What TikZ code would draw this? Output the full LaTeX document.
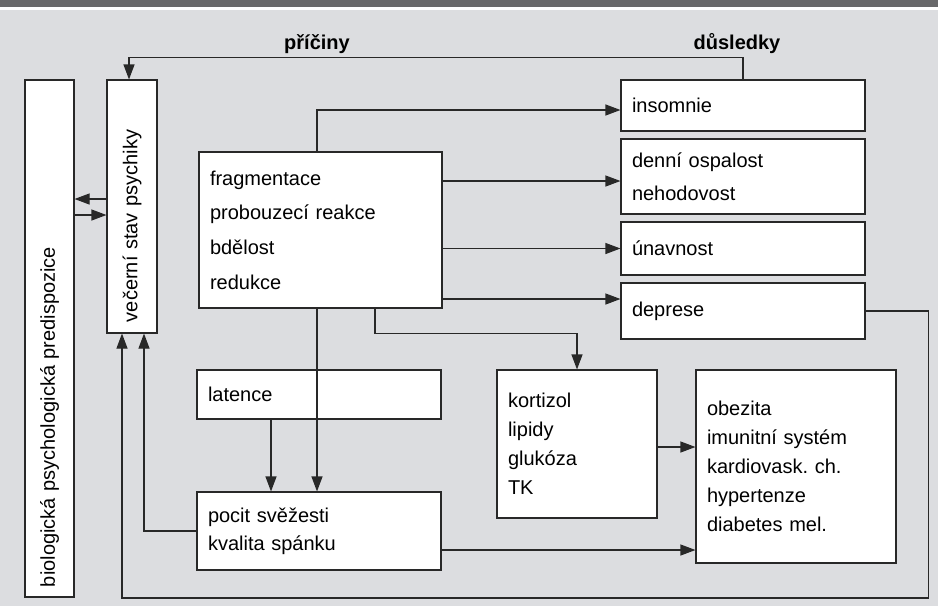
\documentclass[tikz,border=0pt]{standalone}
\usepackage{fontspec}
\setmainfont{Liberation Sans}
\usepackage{tikz}
\usetikzlibrary{arrows.meta}
\definecolor{bgray}{RGB}{220,221,224}
\definecolor{bargray}{RGB}{104,104,106}
\definecolor{linegray}{RGB}{40,40,40}

\begin{document}
\begin{tikzpicture}[x=1pt, y=-1pt, font=\fontsize{20}{29}\selectfont,
    box/.style={draw=linegray, fill=white, line width=1.1pt, inner xsep=11pt,
                inner ysep=0pt, align=left},
    arr/.style={draw=linegray, line width=1.1pt, -{Triangle[length=15pt,width=11pt]}},
    lin/.style={draw=linegray, line width=1.1pt}]
    % background and top bar
    \useasboundingbox (0,0) rectangle (938,606);
    \fill[bgray] (0,0) rectangle (938,606);
    \fill[bargray] (0,0) rectangle (938,7);
    \fill[white] (0,7) rectangle (938,10);
    % headings
    \node[font=\fontsize{20}{24}\selectfont\bfseries] (pricinyT) at (317,44) {příčiny};
    \node[font=\fontsize{20}{24}\selectfont\bfseries] (dusledkyT) at (737,44) {důsledky};
    % left columns (rotated: east = top, west = bottom, north = left, south = right)
    \node[box, rotate=90, text width=497pt, inner xsep=10pt, minimum height=49pt] (bio) at (49.5,338.5)
        {biologická psychologická predispozice};
    \node[box, rotate=90, text width=231pt, minimum height=50pt] (vecerni) at (132,206.5)
        {večerní stav psychiky};
    % sleep
    \node[box, text width=221pt, minimum height=156pt, font=\fontsize{20}{34.6}\selectfont] (frag) at (320.5,230)
        {fragmentace\\probouzecí reakce\\bdělost\\redukce};
    \node[box, text width=222pt, minimum height=49pt] (latence) at (319,394.5) {latence};
    \node[box, text width=222pt, minimum height=78pt, font=\fontsize{20}{28}\selectfont] (pocit) at (319,531)
        {pocit svěžesti\\kvalita spánku};
    % consequences
    \node[box, text width=222pt, minimum height=51pt] (insomnie) at (743,105.5) {insomnie};
    \node[box, text width=222pt, minimum height=75pt, font=\fontsize{20}{33}\selectfont] (denni) at (743,176.5)
        {denní ospalost\\nehodovost};
    \node[box, text width=222pt, minimum height=53pt] (unavnost) at (743,248.5) {únavnost};
    \node[box, text width=222pt, minimum height=56pt] (deprese) at (743,311) {deprese};
    \node[box, text width=138pt, minimum height=148pt] (kortizol) at (577,444)
        {kortizol\\lipidy\\glukóza\\TK};
    \node[box, text width=178pt, minimum height=193pt] (obezita) at (796,466.5)
        {obezita\\imunitní systém\\kardiovask.\ ch.\\hypertenze\\diabetes mel.};
    % connectors
    \draw[arr] (insomnie.north) -- ++(0,-22) -| ([xshift=-3pt]vecerni.east);
    \draw[arr] ([yshift=7.5pt]vecerni.north) -- ([yshift=7.5pt]vecerni.north -| bio.south);
    \draw[arr] ([yshift=-8.5pt]bio.south |- vecerni.north) -- ([yshift=-8.5pt]vecerni.north);
    \draw[arr] ([xshift=-3.5pt]frag.north) |- ([yshift=-4.5pt]insomnie.west);
    \draw[arr] ([yshift=-4.5pt]frag.east |- denni.west) -- ([yshift=-4.5pt]denni.west);
    \draw[arr] (frag.east |- unavnost.west) -- (unavnost.west);
    \draw[arr] ([yshift=12pt]frag.east |- deprese.west) -- ([yshift=12pt]deprese.west);
    \draw[arr] ([xshift=54.5pt]frag.south) -- ++(0,25) -| (kortizol.north);
    \draw[arr] ([xshift=-3.5pt]frag.south) -- ([xshift=-3.5pt]frag.south |- pocit.north);
    \draw[arr] ([xshift=-48pt]latence.south) -- ([xshift=-48pt]pocit.north);
    \draw[arr] (pocit.west) -| ([xshift=12pt]vecerni.west);
    \draw[arr] (deprese.east) -- ++(63,0) -- ++(0,287) -| ([xshift=-10pt]vecerni.west);
    \draw[arr] ([yshift=-3pt]kortizol.east) -- ([yshift=-3pt]kortizol.east -| obezita.west);
    \draw[arr] ([yshift=-19pt]pocit.east) -- ([yshift=-19pt]pocit.east -| obezita.west);
\end{tikzpicture}
\end{document}
